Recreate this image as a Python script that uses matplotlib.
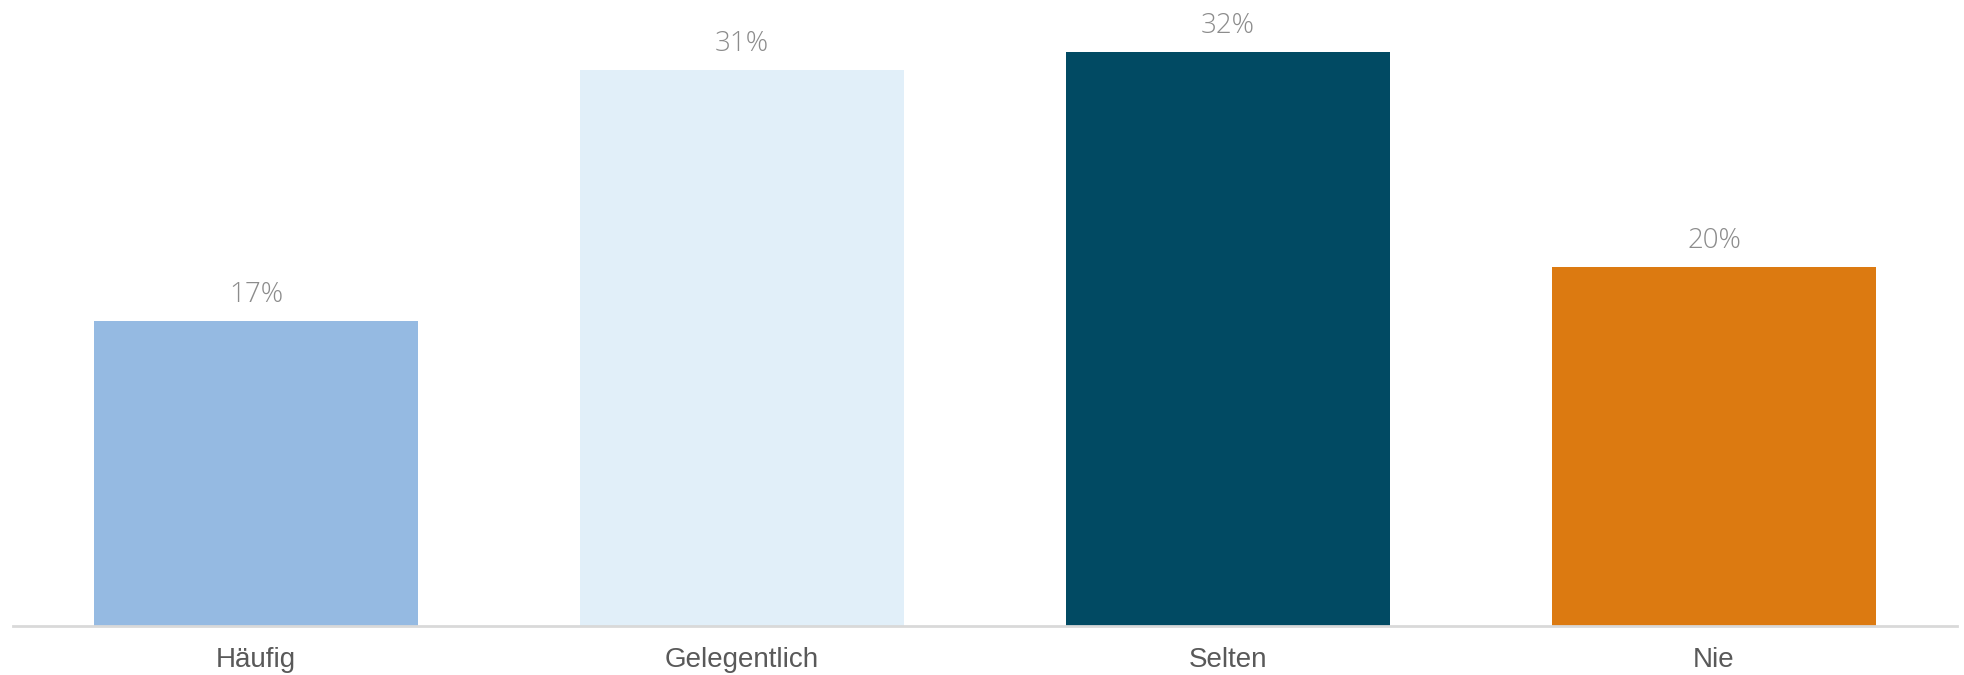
import matplotlib
matplotlib.use("Agg")
import matplotlib.pyplot as plt

categories = ["Häufig", "Gelegentlich", "Selten", "Nie"]
values = [17, 31, 32, 20]
colors = ["#95bae2", "#e1eff9", "#014a63", "#dc7a11"]

W, H = 1964, 675
fig = plt.figure(figsize=(W / 100, H / 100), dpi=100)
base_px = 625.7
px_per_unit = 17.92
ax = fig.add_axes([13 / W, (H - base_px) / H, (1957 - 13) / W, base_px / H])
x = list(range(len(categories)))
bars = ax.bar(x, values, width=0.667, color=colors, zorder=2)
ax.set_xlim(-0.5, len(categories) - 0.5)
ax.set_ylim(0, base_px / px_per_unit)

for xi, v in zip(x, values):
    ax.annotate(f"{v}%", (xi, v), xytext=(0, 19), textcoords="offset pixels",
                ha="center", va="baseline", fontsize=20, color="#8c8c8c",
                family=["Open Sans", "DejaVu Sans"], fontweight="light")

for s in ["top", "left", "right"]:
    ax.spines[s].set_visible(False)
ax.spines["bottom"].set_color("#d9d9d9")
ax.spines["bottom"].set_linewidth(2)
ax.set_yticks([])
ax.set_xticks(x)
ax.set_xticklabels(categories, fontsize=20, color="#595959",
                   family=["Liberation Sans", "DejaVu Sans"])
ax.tick_params(axis="x", length=0, pad=15)
fig.savefig("out.png", dpi=100)
